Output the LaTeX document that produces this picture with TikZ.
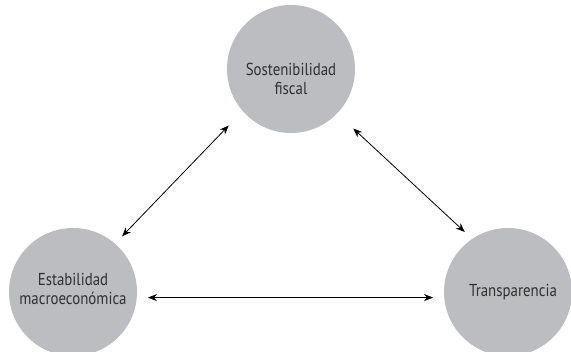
\documentclass[tikz,border=0pt]{standalone}
\usepackage{fontspec}
\setmainfont[FakeStretch=0.86]{PT Sans}
\usetikzlibrary{arrows.meta}
\definecolor{circfill}{HTML}{BCBDC0}
\definecolor{txt}{HTML}{303030}
\tikzset{
  bubble/.style={circle, fill=circfill, minimum size=128pt, inner sep=0pt},
  lbl/.style={align=center, text=txt, inner sep=0pt, font=\fontsize{17.3}{18.8}\selectfont},
  link/.style={{Stealth[length=9pt,width=7pt]}-{Stealth[length=9pt,width=7pt]}, line width=0.8pt, black}
}
\begin{document}
\begin{tikzpicture}[x=1pt,y=1pt]
\useasboundingbox (0,0) rectangle (571,352);
\clip (0,0) rectangle (571,352);
\node[bubble] (top) at (291,283) {};
\node[bubble] (left) at (73,60) {};
\node[bubble] (right) at (508,60) {};
\node[lbl] (toptext) at ([yshift=-10pt]top.center) {Sostenibilidad\\fiscal};
\node[lbl] (lefttext) at ([yshift=3pt]left.center) {Estabilidad\\macroeconómica};
\node[lbl] (righttext) at ([xshift=5pt]right.center) {Transparencia};
\draw[link, shorten <=20pt, shorten >=10pt] (top.221) -- (left.49);
\draw[link, shorten <=22pt, shorten >=10pt] (top.316) -- (right.124);
\draw[link, shorten <=11pt, shorten >=11pt] (left.-5) -- (right.185);
\end{tikzpicture}
\end{document}
